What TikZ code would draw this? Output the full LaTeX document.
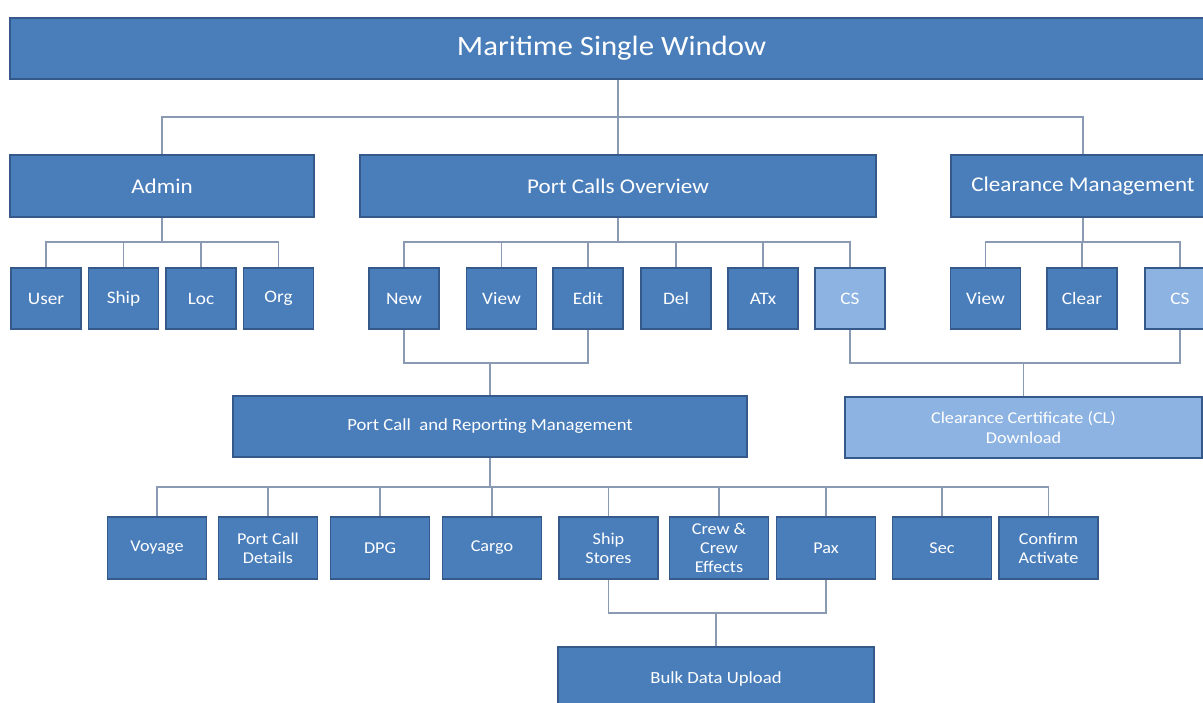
\documentclass[tikz,border=0pt]{standalone}
\usepackage{fontspec}
\setmainfont{Carlito}[FakeStretch=1.1]
\definecolor{boxblue}{HTML}{4A7EBB}
\definecolor{boxedge}{HTML}{35598A}
\definecolor{lightblue}{HTML}{8DB3E2}
\definecolor{linkgray}{HTML}{8A9AB2}
\tikzset{
  box/.style={rectangle, draw=boxedge, line width=1.3pt, fill=boxblue, text=white,
    inner sep=0pt, align=center, font=\fontsize{17.5}{19}\selectfont},
  lightbox/.style={box, fill=lightblue},
  link/.style={draw=linkgray, line width=1.2pt},
  toptext/.style={font=\fontsize{28}{32}\selectfont},
  midtext/.style={font=\fontsize{21}{24}\selectfont},
  smalltext/.style={font=\fontsize{16.5}{19}\selectfont},
}
\begin{document}
\begin{tikzpicture}[x=1pt,y=-1pt]
\useasboundingbox (0,0) rectangle (1203,703);
% level 1
\node[box,toptext,minimum width=1203pt,minimum height=61pt] (top) at (611.5,48.5) {Maritime Single Window};
% level 2
\node[box,midtext,minimum width=304pt,minimum height=62pt] (admin) at (162,186) {Admin};
\node[box,midtext,minimum width=516pt,minimum height=62pt] (pco) at (618,186) {Port Calls Overview};
\node[box,midtext,minimum width=264pt,minimum height=62pt] (clr) at (1083,186) {Clearance Management};
% level 3
\foreach \n/\x/\t in {user/46/User, ship/123.5/Ship, loc/201/Loc, org/278.5/Org,
  new/404/New, view/501.5/View, edit/588/Edit, del/676/Del, atx/763/ATx,
  viewb/985.5/View, clear/1082/Clear}
  \node[box,minimum width=70pt,minimum height=61pt] (\n) at (\x,298.5) {\t};
\node[lightbox,minimum width=70pt,minimum height=61pt] (cs) at (850,298.5) {CS};
\node[lightbox,minimum width=70pt,minimum height=61pt] (csb) at (1180,298.5) {CS};
% level 4
\node[box,font=\fontsize{17}{19}\selectfont,minimum width=514pt,minimum height=61pt] (pcrm) at (490,426.5) {Port Call\ \ and Reporting Management};
\node[lightbox,font=\fontsize{16.5}{20}\selectfont,minimum width=357pt,minimum height=61pt] (ccl) at (1023.5,427.5) {Clearance Certificate (CL)\\Download};
% level 5
\foreach \n/\x/\t in {voy/157/Voyage, pcd/268/Port Call\\Details, dpg/380/DPG, cargo/492/Cargo,
  ss/608.5/Ship\\Stores, crew/719/Crew \&\\Crew\\Effects, pax/826/Pax, sec/942/Sec,
  conf/1048.5/Confirm\\Activate}
  \node[box,smalltext,minimum width=99pt,minimum height=62pt] (\n) at (\x,548) {\t};
% level 6
\node[box,font=\fontsize{17}{19}\selectfont,minimum width=316pt,minimum height=64pt] (bulk) at (716,679) {Bulk Data Upload};

% connectors
\coordinate (r1) at (0,117);
\coordinate (r2) at (0,242);
\coordinate (r3) at (0,363);
\coordinate (r4) at (0,487);
\coordinate (r5) at (0,613);
\draw[link] (pco.north) -- (pco.north |- top.south);
\draw[link] (admin.north) |- (clr.north |- r1) -- (clr.north);
% admin children
\draw[link] (admin.south) -- (admin.south |- r2);
\draw[link] (user.north) |- (org.north |- r2) -- (org.north);
\foreach \n in {ship,loc} \draw[link] (\n.north) -- (\n.north |- r2);
% port calls children
\draw[link] (pco.south) -- (pco.south |- r2);
\draw[link] (new.north) |- (cs.north |- r2) -- (cs.north);
\foreach \n in {view,edit,del,atx} \draw[link] (\n.north) -- (\n.north |- r2);
% clearance children
\draw[link] (clr.south) -- (clr.south |- r2);
\draw[link] (viewb.north) |- (csb.north |- r2) -- (csb.north);
\draw[link] (clear.north) -- (clear.north |- r2);
% new/edit to pcrm
\draw[link] (new.south) |- (edit.south |- r3) -- (edit.south);
\draw[link] (pcrm.north) -- (pcrm.north |- r3);
% cs to ccl
\draw[link] (cs.south) |- (csb.south |- r3) -- (csb.south);
\draw[link] (ccl.north) -- (ccl.north |- r3);
% pcrm children
\draw[link] (pcrm.south) -- (pcrm.south |- r4);
\draw[link] (voy.north) |- (conf.north |- r4) -- (conf.north);
\foreach \n in {pcd,dpg,cargo,ss,crew,pax,sec} \draw[link] (\n.north) -- (\n.north |- r4);
% bulk upload
\draw[link] (ss.south) |- (pax.south |- r5) -- (pax.south);
\draw[link] (bulk.north) -- (bulk.north |- r5);
\end{tikzpicture}
\end{document}
